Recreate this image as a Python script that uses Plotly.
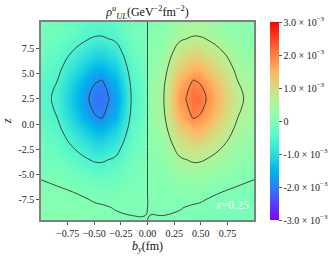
import plotly.graph_objects as go
import numpy as np

# ---- data (values in units of 1e-3 GeV^-2 fm^-2) ----
b_y = [-1.0, -0.85, -0.7, -0.55, -0.49, -0.43, -0.37, -0.3, -0.15, -0.02,
       0.02, 0.15, 0.3, 0.37, 0.43, 0.49, 0.55, 0.7, 0.85, 1.0]
z_vals = [10.2, 8.7, 7.2, 5.7, 4.2, 3.4, 2.5, 1.6, 0.7, -0.8, -2.3, -3.8, -5.3, -6.8, -8.3, -9.8]

rho_e3 = [
    [-0.09, -0.15, -0.27, -0.40, -0.44, -0.45, -0.41, -0.36, -0.12, -0.06, 0.06, 0.12, 0.36, 0.41, 0.45, 0.44, 0.40, 0.27, 0.15, 0.09],
    [-0.13, -0.19, -0.36, -0.53, -0.59, -0.60, -0.54, -0.48, -0.16, -0.08, 0.08, 0.16, 0.48, 0.54, 0.60, 0.59, 0.53, 0.36, 0.19, 0.13],
    [-0.21, -0.32, -0.61, -0.89, -0.99, -1.01, -0.91, -0.80, -0.27, -0.13, 0.13, 0.27, 0.80, 0.91, 1.01, 0.99, 0.89, 0.61, 0.32, 0.21],
    [-0.30, -0.45, -0.87, -1.27, -1.41, -1.44, -1.29, -1.14, -0.38, -0.19, 0.19, 0.38, 1.14, 1.29, 1.44, 1.41, 1.27, 0.87, 0.45, 0.30],
    [-0.40, -0.60, -1.15, -1.68, -1.86, -1.95, -1.71, -1.50, -0.50, -0.25, 0.25, 0.50, 1.50, 1.71, 1.95, 1.86, 1.68, 1.15, 0.60, 0.40],
    [-0.43, -0.65, -1.25, -1.82, -2.02, -2.07, -1.85, -1.63, -0.55, -0.27, 0.27, 0.55, 1.63, 1.85, 2.07, 2.02, 1.82, 1.25, 0.65, 0.43],
    [-0.45, -0.68, -1.30, -1.90, -2.10, -2.15, -1.93, -1.70, -0.57, -0.28, 0.28, 0.57, 1.70, 1.93, 2.15, 2.10, 1.90, 1.30, 0.68, 0.45],
    [-0.43, -0.65, -1.25, -1.82, -2.02, -2.07, -1.85, -1.63, -0.55, -0.27, 0.27, 0.55, 1.63, 1.85, 2.07, 2.02, 1.82, 1.25, 0.65, 0.43],
    [-0.40, -0.60, -1.15, -1.68, -1.86, -1.95, -1.71, -1.50, -0.50, -0.25, 0.25, 0.50, 1.50, 1.71, 1.95, 1.86, 1.68, 1.15, 0.60, 0.40],
    [-0.30, -0.45, -0.86, -1.25, -1.39, -1.42, -1.27, -1.12, -0.38, -0.18, 0.18, 0.38, 1.12, 1.27, 1.42, 1.39, 1.25, 0.86, 0.45, 0.30],
    [-0.21, -0.32, -0.60, -0.87, -0.97, -0.99, -0.89, -0.78, -0.26, -0.13, 0.13, 0.26, 0.78, 0.89, 0.99, 0.97, 0.87, 0.60, 0.32, 0.21],
    [-0.12, -0.19, -0.36, -0.53, -0.59, -0.60, -0.54, -0.48, -0.16, -0.08, 0.08, 0.16, 0.48, 0.54, 0.60, 0.59, 0.53, 0.36, 0.19, 0.12],
    [-0.01, -0.05, -0.14, -0.24, -0.28, -0.30, -0.27, -0.23, -0.08, -0.04, 0.04, 0.08, 0.23, 0.27, 0.30, 0.28, 0.24, 0.14, 0.05, 0.01],
    [0.06, 0.04, 0.005, -0.04, -0.08, -0.10, -0.09, -0.08, -0.03, -0.015, 0.015, 0.03, 0.08, 0.09, 0.10, 0.08, 0.04, -0.005, -0.04, -0.06],
    [0.10, 0.08, 0.07, 0.05, 0.04, 0.03, 0.01, -0.01, -0.01, -0.004, 0.004, 0.01, 0.01, -0.01, -0.03, -0.04, -0.05, -0.07, -0.08, -0.10],
    [0.12, 0.10, 0.10, 0.09, 0.08, 0.08, 0.06, 0.05, 0.01, 0.004, -0.004, -0.01, -0.05, -0.06, -0.08, -0.08, -0.09, -0.10, -0.10, -0.12],
]

contour_outer = 0.6   # 1e-3 units
contour_inner = 1.9   # 1e-3 units

cbar_vals = [-3e-3, -2e-3, -1e-3, 0, 1e-3, 2e-3, 3e-3]
cbar_text = ["-3.0 × 10<sup>−3</sup>", "-2.0 × 10<sup>−3</sup>", "-1.0 × 10<sup>−3</sup>", "0",
             "1.0 × 10<sup>−3</sup>", "2.0 × 10<sup>−3</sup>", "3.0 × 10<sup>−3</sup>"]
x_ticks = [-0.75, -0.5, -0.25, 0, 0.25, 0.5, 0.75]
x_ticktext = ["−0.75", "−0.50", "−0.25", "0.00", "0.25", "0.50", "0.75"]
y_ticks = [-7.5, -5.0, -2.5, 0.0, 2.5, 5.0, 7.5]
y_ticktext = ["-7.5", "-5.0", "-2.5", "0.0", "2.5", "5.0", "7.5"]

# ---- matplotlib-like 'rainbow' colorscale (style) ----
def rainbow(t):
    r = min(1.0, abs(2 * t - 0.5))
    g = np.sin(np.pi * t)
    b = np.cos(np.pi * t / 2)
    return "rgb(%d,%d,%d)" % (round(255 * r), round(255 * g), round(255 * max(b, 0)))

cscale = [[t, rainbow(t)] for t in np.linspace(0, 1, 21)]

Z = np.array(rho_e3) * 1e-3

FONT = "Liberation Serif"
fig = go.Figure()
fig.add_trace(go.Heatmap(
    x=b_y, y=z_vals, z=Z, zsmooth="best", colorscale=cscale,
    zmin=-3e-3, zmax=3e-3,
    colorbar=dict(x=1.075, xanchor="left", y=0.5, yanchor="middle", len=1.0,
                  lenmode="fraction", thickness=9, outlinewidth=0, ypad=0, xpad=0,
                  tickvals=cbar_vals, ticktext=cbar_text, ticks="outside",
                  ticklen=3, tickcolor="#555", tickfont=dict(family=FONT, size=10, color="#222")),
))
fig.add_trace(go.Contour(
    x=b_y, y=z_vals, z=Z, showscale=False, hoverinfo="skip",
    contours=dict(coloring="none", start=-contour_outer * 1e-3, end=contour_outer * 1e-3,
                  size=contour_outer * 1e-3),
    line=dict(color="#333333", width=0.9, smoothing=1.3),
))
fig.add_trace(go.Contour(
    x=b_y, y=z_vals, z=Z, showscale=False, hoverinfo="skip",
    contours=dict(coloring="none", start=-contour_inner * 1e-3, end=contour_inner * 1e-3,
                  size=2 * contour_inner * 1e-3),
    line=dict(color="#333333", width=0.9, smoothing=1.3),
))

fig.add_annotation(x=0.79, y=-8.0, xref="x", yref="y", text="<i>x</i>=0.25",
                   showarrow=False, font=dict(family=FONT, size=12, color="white"))

fig.update_layout(
    width=335, height=259,
    margin=dict(l=41, r=81, t=22, b=39, autoexpand=False),
    paper_bgcolor="white", plot_bgcolor="white",
    font=dict(family=FONT, size=10, color="#222"),
    showlegend=False,
    title=dict(text="<i>ρ</i><sup><i>u</i></sup><sub><i>UL</i></sub>(GeV<sup>−2</sup>fm<sup>−2</sup>)",
               x=0.5, xref="paper", xanchor="center", y=1 - 12 / 259, yref="container",
               yanchor="middle", font=dict(family=FONT, size=12, color="#111")),
    xaxis=dict(range=[-1.0, 1.0], tickvals=x_ticks, ticktext=x_ticktext, ticks="outside",
               tickangle=0, automargin=False,
               ticklen=3, tickcolor="#555", showline=True, linecolor="#7f7f7f", linewidth=1.5,
               mirror=True, showgrid=False, zeroline=False,
               title=dict(text="<i>b</i><sub><i>y</i></sub>(fm)", standoff=0,
                          font=dict(family=FONT, size=12, color="#111"))),
    yaxis=dict(range=[-9.5, 10.1], tickvals=y_ticks, ticktext=y_ticktext, ticks="outside",
               automargin=False,
               ticklen=3, tickcolor="#555", showline=True, linecolor="#7f7f7f", linewidth=1.5,
               mirror=True, showgrid=False, zeroline=False,
               title=dict(text="<i>z</i>", standoff=14,
                          font=dict(family=FONT, size=12, color="#111"))),
)

fig.write_html("out.html", config={"displayModeBar": False},
               post_script="document.body.style.margin='0';")
